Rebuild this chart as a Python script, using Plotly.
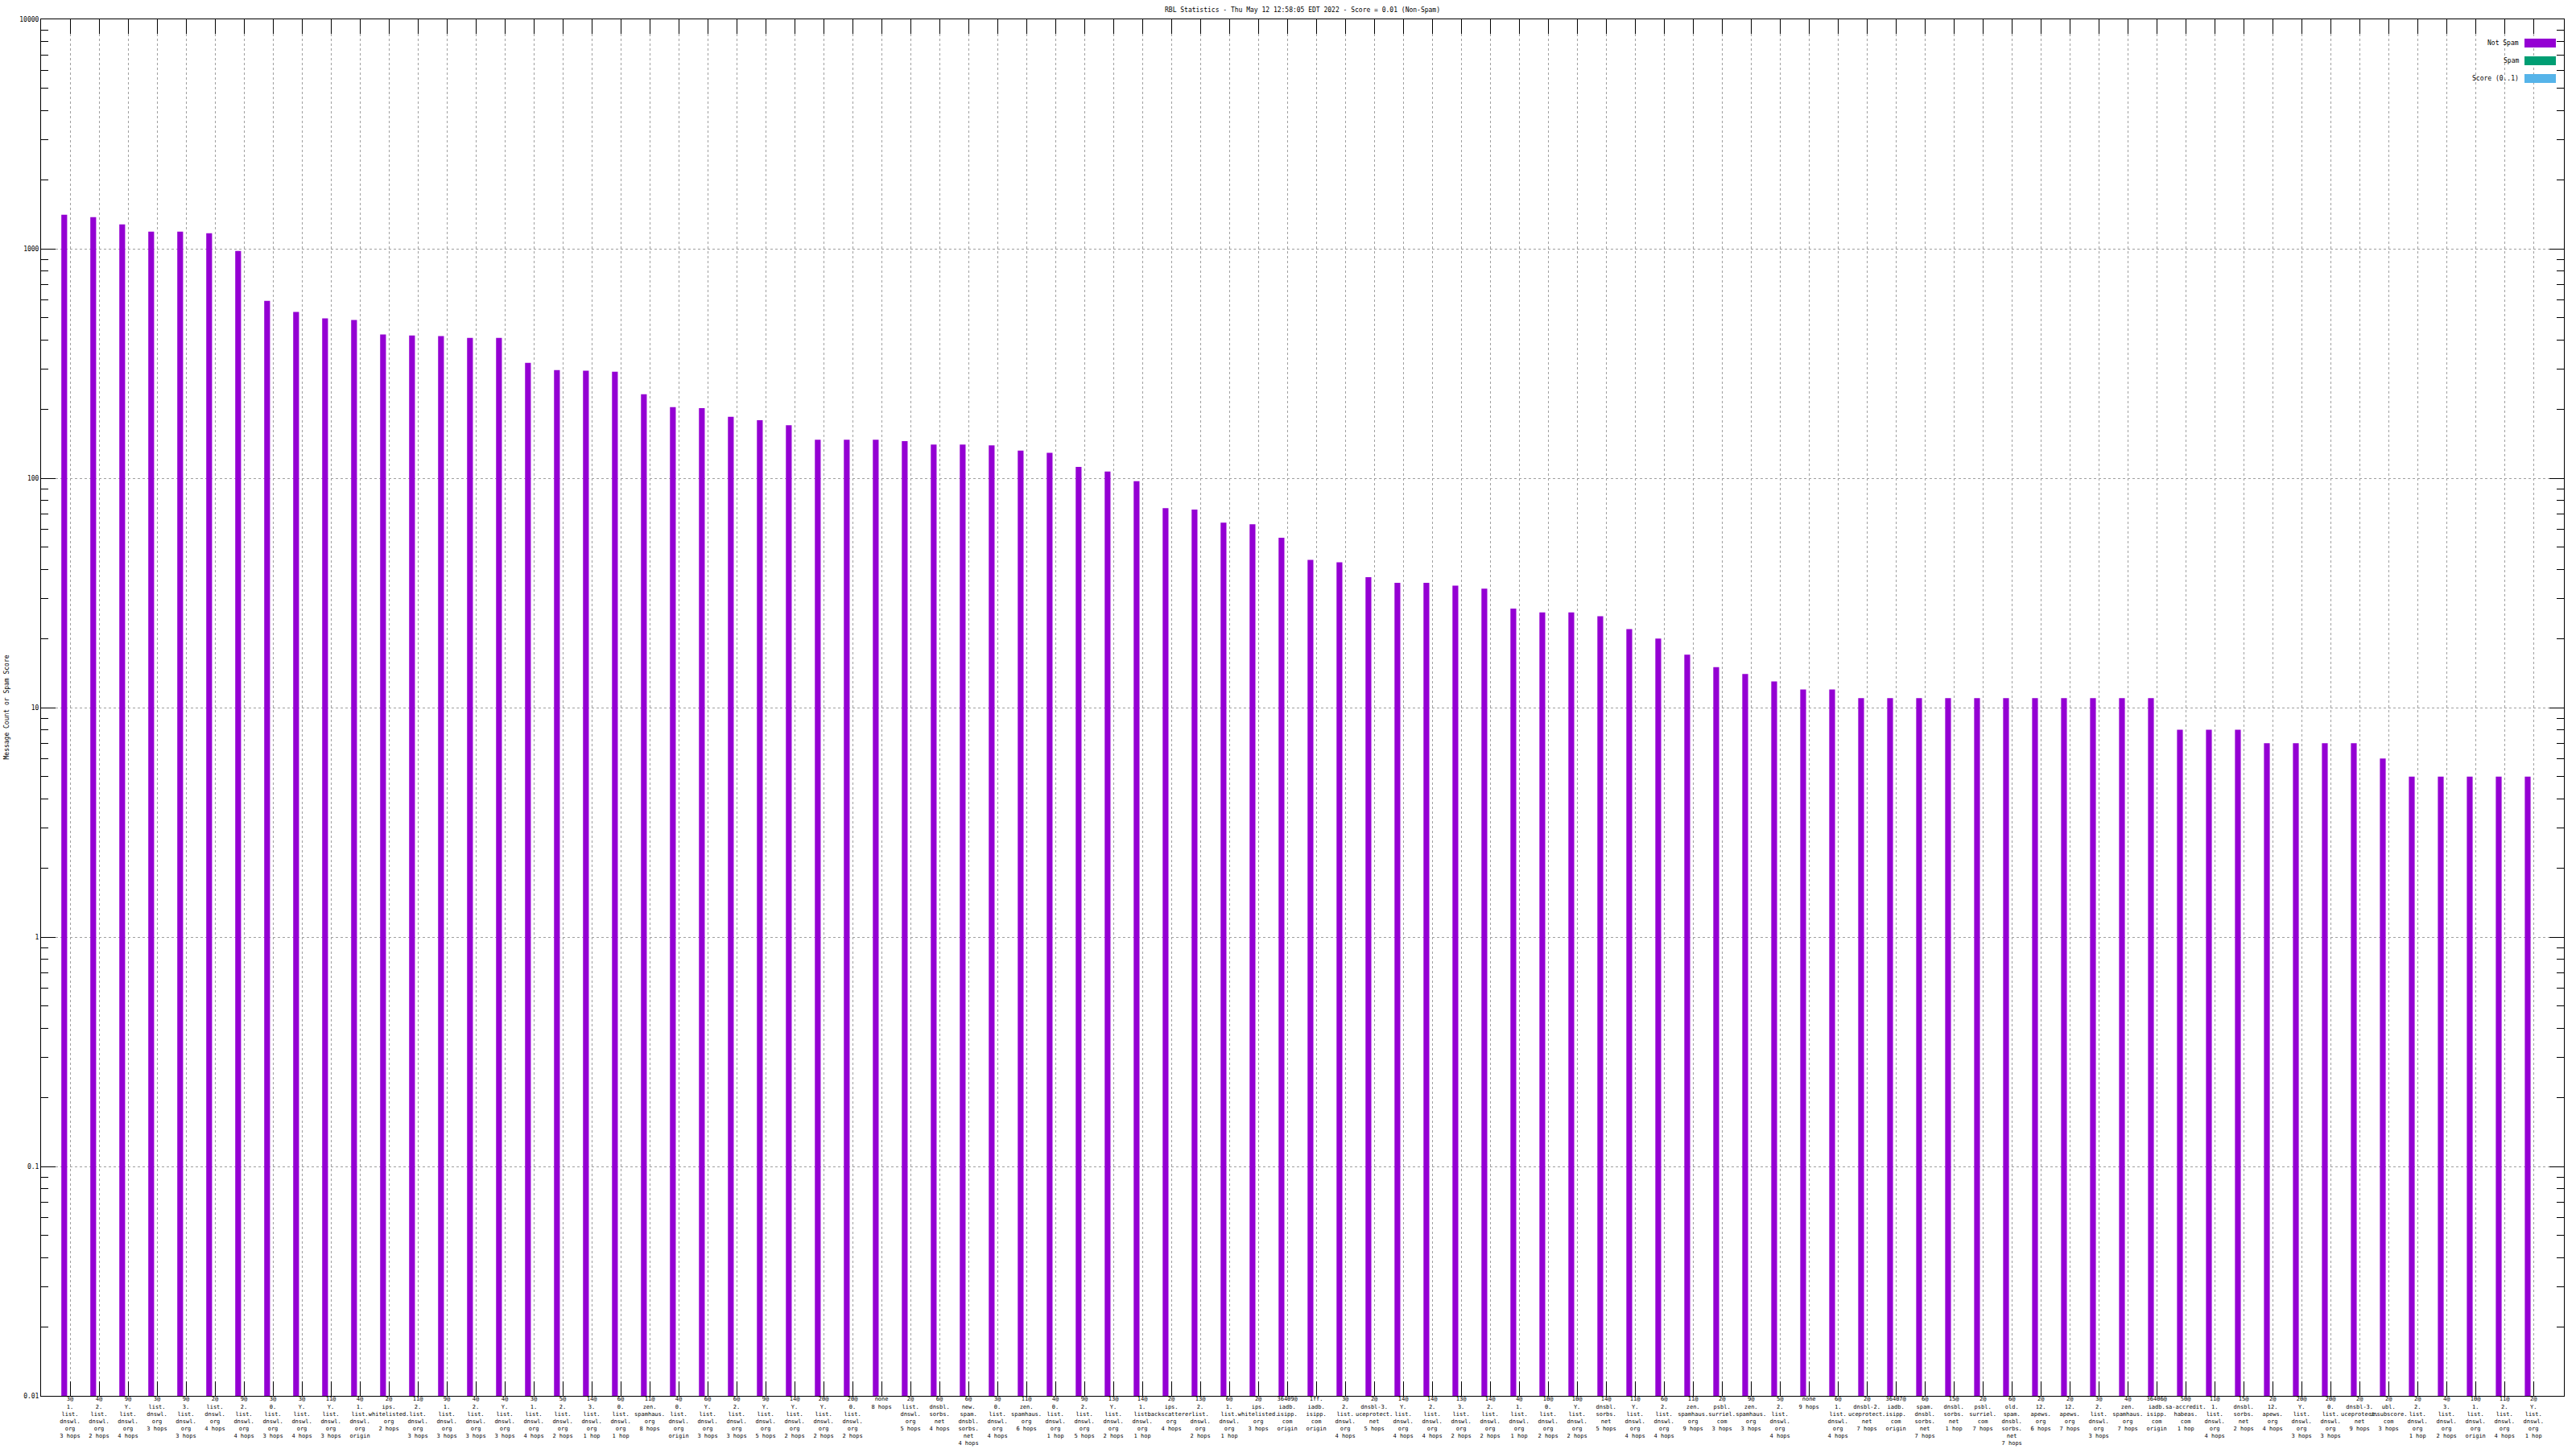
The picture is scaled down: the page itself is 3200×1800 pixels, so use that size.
import plotly.graph_objects as go

title_text = "RBL Statistics - Thu May 12 12:58:05 EDT 2022 - Score = 0.01 (Non-Spam)"
y_title = "Message Count or Spam Score"

labels = [
    "3@1.list.dnswl.org 3 hops", "4@2.list.dnswl.org 2 hops", "9@Y.list.dnswl.org 4 hops",
    "3@list.dnswl.org 3 hops", "9@3.list.dnswl.org 3 hops", "2@list.dnswl.org 4 hops",
    "9@2.list.dnswl.org 4 hops", "3@0.list.dnswl.org 3 hops", "3@Y.list.dnswl.org 4 hops",
    "11@Y.list.dnswl.org 3 hops", "4@1.list.dnswl.org origin", "2@ips.whitelisted.org 2 hops",
    "11@2.list.dnswl.org 3 hops", "9@1.list.dnswl.org 3 hops", "4@2.list.dnswl.org 3 hops",
    "4@Y.list.dnswl.org 3 hops", "3@1.list.dnswl.org 4 hops", "5@2.list.dnswl.org 2 hops",
    "14@3.list.dnswl.org 1 hop", "6@0.list.dnswl.org 1 hop", "11@zen.spamhaus.org 8 hops",
    "4@0.list.dnswl.org origin", "6@Y.list.dnswl.org 3 hops", "6@2.list.dnswl.org 3 hops",
    "9@Y.list.dnswl.org 5 hops", "14@Y.list.dnswl.org 2 hops", "20@Y.list.dnswl.org 2 hops",
    "20@0.list.dnswl.org 2 hops", "none 8 hops", "2@list.dnswl.org 5 hops",
    "6@dnsbl.sorbs.net 4 hops", "6@new.spam.dnsbl.sorbs.net 4 hops", "3@0.list.dnswl.org 4 hops",
    "11@zen.spamhaus.org 6 hops", "4@0.list.dnswl.org 1 hop", "9@2.list.dnswl.org 5 hops",
    "13@Y.list.dnswl.org 2 hops", "14@1.list.dnswl.org 1 hop", "2@ips.backscatterer.org 4 hops",
    "13@2.list.dnswl.org 2 hops", "6@1.list.dnswl.org 1 hop", "2@ips.whitelisted.org 3 hops",
    "36409@iadb.isipp.com origin", "1ff.iadb.isipp.com origin", "3@2.list.dnswl.org 4 hops",
    "2@dnsbl-3.uceprotect.net 5 hops", "14@Y.list.dnswl.org 4 hops", "14@2.list.dnswl.org 4 hops",
    "13@3.list.dnswl.org 2 hops", "14@2.list.dnswl.org 2 hops", "4@1.list.dnswl.org 1 hop",
    "10@0.list.dnswl.org 2 hops", "10@Y.list.dnswl.org 2 hops", "14@dnsbl.sorbs.net 5 hops",
    "11@Y.list.dnswl.org 4 hops", "6@2.list.dnswl.org 4 hops", "11@zen.spamhaus.org 9 hops",
    "2@psbl.surriel.com 3 hops", "9@zen.spamhaus.org 3 hops", "5@2.list.dnswl.org 4 hops",
    "none 9 hops", "6@1.list.dnswl.org 4 hops", "2@dnsbl-2.uceprotect.net 7 hops",
    "36407@iadb.isipp.com origin", "6@spam.dnsbl.sorbs.net 7 hops", "15@dnsbl.sorbs.net 1 hop",
    "2@psbl.surriel.com 7 hops", "6@old.spam.dnsbl.sorbs.net 7 hops", "2@12.apews.org 6 hops",
    "2@12.apews.org 7 hops", "3@2.list.dnswl.org 3 hops", "4@zen.spamhaus.org 7 hops",
    "36406@iadb.isipp.com origin", "50@sa-accredit.habeas.com 1 hop", "11@1.list.dnswl.org 4 hops",
    "15@dnsbl.sorbs.net 2 hops", "2@12.apews.org 4 hops", "20@Y.list.dnswl.org 3 hops",
    "20@0.list.dnswl.org 3 hops", "2@dnsbl-3.uceprotect.net 9 hops", "2@ubl.unsubscore.com 3 hops",
    "2@2.list.dnswl.org 1 hop", "4@3.list.dnswl.org 2 hops", "10@1.list.dnswl.org origin",
    "11@2.list.dnswl.org 4 hops", "2@Y.list.dnswl.org 1 hop",
]

not_spam = [
    1408, 1374, 1277, 1188, 1188, 1169, 979, 593, 530, 497,
    489, 423, 419, 416, 409, 409, 318, 296, 294, 291,
    232, 204, 202, 185, 179, 170, 147, 147, 147, 145,
    140, 140, 139, 132, 129, 112, 107, 97, 74, 73,
    64, 63, 55, 44, 43, 37, 35, 35, 34, 33,
    27, 26, 26, 25, 22, 20, 17, 15, 14, 13,
    12, 12, 11, 11, 11, 11, 11, 11, 11, 11,
    11, 11, 11, 8, 8, 8, 7, 7, 7, 7,
    6, 5, 5, 5, 5, 5,
]

spam = [
    0, 0, 0, 0, 0, 0, 0, 0, 0, 0, 0, 0, 0, 0, 0, 0, 0, 0, 0, 0, 0, 0,
    0, 0, 0, 0, 0, 0, 0, 0, 0, 0, 0, 0, 0, 0, 0, 0, 0, 0, 0, 0, 0,
    0, 0, 0, 0, 0, 0, 0, 0, 0, 0, 0, 0, 0, 0, 0, 0, 0, 0, 0, 0, 0, 0,
    0, 0, 0, 0, 0, 0, 0, 0, 0, 0, 0, 0, 0, 0, 0, 0, 0, 0, 0, 0, 0,
]

score = [
    0, 0, 0, 0, 0, 0, 0, 0, 0, 0, 0, 0, 0, 0, 0, 0, 0, 0, 0, 0, 0, 0,
    0, 0, 0, 0, 0, 0, 0, 0, 0, 0, 0, 0, 0, 0, 0, 0, 0, 0, 0, 0, 0,
    0, 0, 0, 0, 0, 0, 0, 0, 0, 0, 0, 0, 0, 0, 0, 0, 0, 0, 0, 0, 0, 0,
    0, 0, 0, 0, 0, 0, 0, 0, 0, 0, 0, 0, 0, 0, 0, 0, 0, 0, 0, 0, 0,
]

series_names = ["Not Spam", "Spam", "Score (0..1)"]
series_colors = ["#9400D3", "#009E73", "#56B4E9"]

y_tick_values = [0.01, 0.1, 1, 10, 100, 1000, 10000]
y_tick_labels = ["0.01", "0.1", "1", "10", "100", "1000", "10000"]

FONT = "DejaVu Sans Mono"
W, H = 3200, 1800
ML, MR, MT, MB = 51, 15, 24, 66


def split_label(s):
    head, tail = s.split(" ", 1)
    lines = []
    if "@" in head:
        pre, dom = head.split("@", 1)
        lines.append(pre + "@")
    else:
        dom = head
    parts = dom.split(".")
    for i, p in enumerate(parts):
        lines.append(p + ("." if i < len(parts) - 1 else ""))
    lines.append(tail)
    return "<br>".join(lines)


xs = list(range(len(labels)))
tick_text = [split_label(s) for s in labels]

fig = go.Figure()
for name, color, vals in zip(series_names, series_colors, [not_spam, spam, score]):
    yv = [v if v > 0 else None for v in vals]
    fig.add_trace(go.Bar(x=xs, y=yv, name=name, marker=dict(color=color, line=dict(width=0)),
                         showlegend=False))

# manual gnuplot-style legend (text left, colour box right)
pw = W - ML - MR
ph = H - MT - MB
for i, (name, color) in enumerate(zip(series_names, series_colors)):
    cy = 53.5 + 22 * i
    fig.add_shape(type="rect", xref="paper", yref="paper",
                  x0=(3136 - ML) / pw, x1=(3175 - ML) / pw,
                  y0=(H - MB - (cy + 5.5)) / ph, y1=(H - MB - (cy - 5.5)) / ph,
                  fillcolor=color, line=dict(width=0))
    fig.add_annotation(xref="paper", yref="paper", x=(3131 - ML) / pw,
                       y=(H - MB - cy) / ph, xanchor="right", yanchor="middle",
                       text=name, showarrow=False,
                       font=dict(family=FONT, size=8, color="black"))

fig.add_annotation(xref="paper", yref="paper", x=(7.5 - ML) / pw, y=0.5,
                   xanchor="center", yanchor="middle", textangle=-90,
                   text=y_title, showarrow=False,
                   font=dict(family=FONT, size=8, color="black"))

minor_vals = [m * 10 ** e for e in range(-2, 4) for m in range(2, 10)]

fig.update_layout(
    width=W, height=H,
    margin=dict(l=ML, r=MR, t=MT, b=MB, pad=0, autoexpand=False),
    paper_bgcolor="white", plot_bgcolor="white",
    barmode="group", bargap=0.4, bargroupgap=0,
    font=dict(family=FONT, size=8, color="black"),
    title=dict(text=title_text, x=0.5, xref="paper", xanchor="center",
               y=1 - 12.5 / H, yref="container", yanchor="middle",
               font=dict(family=FONT, size=8, color="black")),
    xaxis=dict(
        range=[-1, 86.05], tickmode="array", tickvals=xs, ticktext=tick_text,
        tickangle=0, ticks="inside", ticklen=18, tickcolor="black", tickwidth=1,
        showline=True, linecolor="black", linewidth=1, mirror="ticks",
        showgrid=True, gridcolor="#a0a0a0", gridwidth=1, griddash="3px,3px",
        zeroline=False, automargin=False, ticklabelstandoff=-3,
        tickfont=dict(family=FONT, size=7, color="black"),
    ),
    yaxis=dict(
        type="log", range=[-2, 4], tickmode="array", tickvals=y_tick_values,
        ticktext=y_tick_labels, ticks="inside", ticklen=18, tickcolor="black", tickwidth=1,
        showline=True, linecolor="black", linewidth=1, mirror="ticks",
        showgrid=True, gridcolor="#a0a0a0", gridwidth=1, griddash="3px,3px",
        zeroline=False, automargin=False,
        tickfont=dict(family=FONT, size=8, color="black"),
        minor=dict(tickmode="array", tickvals=minor_vals, ticks="inside", ticklen=9,
                   tickcolor="black", tickwidth=1, showgrid=False),
    ),
)

fig.write_html("out.html", config={"displayModeBar": False},
               post_script="document.body.style.margin='0';document.body.style.overflow='hidden';")
